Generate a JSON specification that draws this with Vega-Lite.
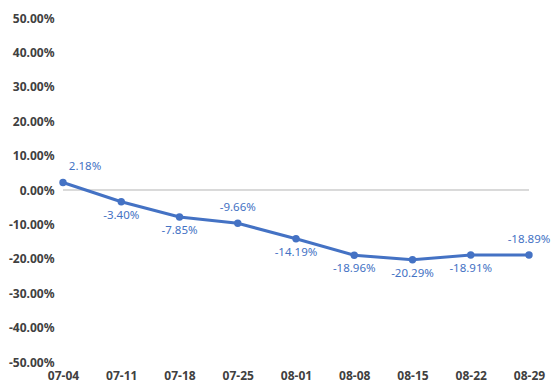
{
  "$schema": "https://vega.github.io/schema/vega-lite/v6.json",
  "autosize": "none",
  "width": 466,
  "height": 344,
  "padding": {"left": 63, "top": 18, "right": 25, "bottom": 29},
  "background": "white",
  "config": {"view": {"stroke": null}, "font": "Noto Sans",
    "locale": {"number": {"decimal": ".", "thousands": ",", "grouping": [3], "currency": ["$", ""], "minus": "-"}}},
  "data": {"values": [
    {"date": "07-04", "value": 0.0218},
    {"date": "07-11", "value": -0.0340},
    {"date": "07-18", "value": -0.0785},
    {"date": "07-25", "value": -0.0966},
    {"date": "08-01", "value": -0.1419},
    {"date": "08-08", "value": -0.1896},
    {"date": "08-15", "value": -0.2029},
    {"date": "08-22", "value": -0.1891},
    {"date": "08-29", "value": -0.1889}
  ]},
  "encoding": {
    "x": {"field": "date", "type": "ordinal", "scale": {"type": "point", "padding": 0},
      "axis": {"title": null, "labelAngle": 0, "domain": false, "ticks": false, "grid": false,
        "labelFont": "Noto Sans", "labelFontSize": 12, "labelFontWeight": "bold", "labelColor": "#404040", "labelPadding": 8}},
    "y": {"field": "value", "type": "quantitative", "scale": {"domain": [-0.5, 0.5], "nice": false},
      "axis": {"title": null, "format": ".2%", "values": [-0.5, -0.4, -0.3, -0.2, -0.1, 0, 0.1, 0.2, 0.3, 0.4, 0.5],
        "domain": false, "ticks": false, "grid": false,
        "labelFont": "Noto Sans", "labelFontSize": 12, "labelFontWeight": "bold", "labelColor": "#404040", "labelPadding": 9}}
  },
  "layer": [
    {"mark": {"type": "rule", "color": "#d9d9d9", "strokeWidth": 1},
      "encoding": {"y": {"datum": 0}, "x": null}},
    {"mark": {"type": "line", "color": "#4472C4", "strokeWidth": 3}},
    {"mark": {"type": "point", "filled": true, "color": "#4472C4", "size": 55, "opacity": 1}},
    {"transform": [{"filter": {"field": "date", "oneOf": ["07-04"]}}],
      "mark": {"type": "text", "color": "#4472C4", "fontSize": 11.5, "dx": 22, "dy": -16, "font": "Noto Sans"},
      "encoding": {"text": {"field": "value", "type": "quantitative", "format": ".2%"}}},
    {"transform": [{"filter": {"field": "date", "oneOf": ["07-25", "08-29"]}}],
      "mark": {"type": "text", "color": "#4472C4", "fontSize": 11.5, "dy": -15, "font": "Noto Sans"},
      "encoding": {"text": {"field": "value", "type": "quantitative", "format": ".2%"}}},
    {"transform": [{"filter": {"field": "date", "oneOf": ["07-11", "07-18", "08-01", "08-08", "08-15", "08-22"]}}],
      "mark": {"type": "text", "color": "#4472C4", "fontSize": 11.5, "dy": 14, "font": "Noto Sans"},
      "encoding": {"text": {"field": "value", "type": "quantitative", "format": ".2%"}}}
  ]
}
